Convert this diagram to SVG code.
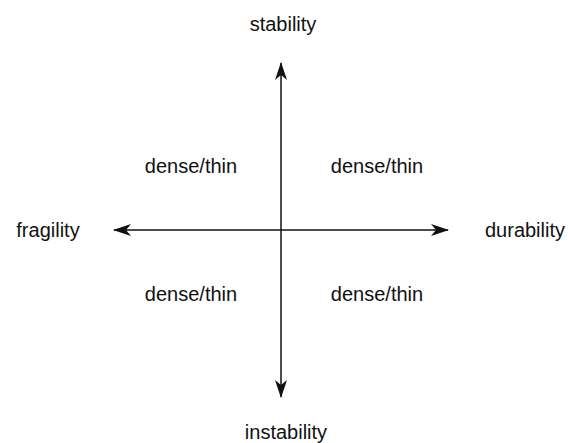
<svg xmlns="http://www.w3.org/2000/svg" width="568" height="443" viewBox="0 0 568 443">
<style>
text{font-family:"Liberation Sans",Arial,sans-serif;font-size:20px;fill:#111;text-anchor:middle}
.ax{stroke:#111;stroke-width:1.5;fill:none}
</style>
<defs>
<marker id="ah" viewBox="0 0 18 12" refX="17" refY="6" markerWidth="18" markerHeight="12" markerUnits="userSpaceOnUse" orient="auto">
<path d="M0,0 L18,6 L0,12 L5,6 Z" fill="#111"/>
</marker>
</defs>
<g id="connectors">
<line class="ax" x1="281" y1="230" x2="281" y2="63" marker-end="url(#ah)"/>
<line class="ax" x1="281" y1="230" x2="281" y2="397" marker-end="url(#ah)"/>
<line class="ax" x1="281" y1="230" x2="114" y2="230" marker-end="url(#ah)"/>
<line class="ax" x1="281" y1="230" x2="448" y2="230" marker-end="url(#ah)"/>
</g>
<g id="stability"><text x="283" y="31">stability</text></g>
<g id="instability"><text x="286" y="439">instability</text></g>
<g id="fragility"><text x="48" y="237">fragility</text></g>
<g id="durability"><text x="525" y="237">durability</text></g>
<g id="q1"><text x="191" y="173">dense/thin</text></g>
<g id="q2"><text x="377" y="173">dense/thin</text></g>
<g id="q3"><text x="191" y="301">dense/thin</text></g>
<g id="q4"><text x="377" y="301">dense/thin</text></g>
</svg>
